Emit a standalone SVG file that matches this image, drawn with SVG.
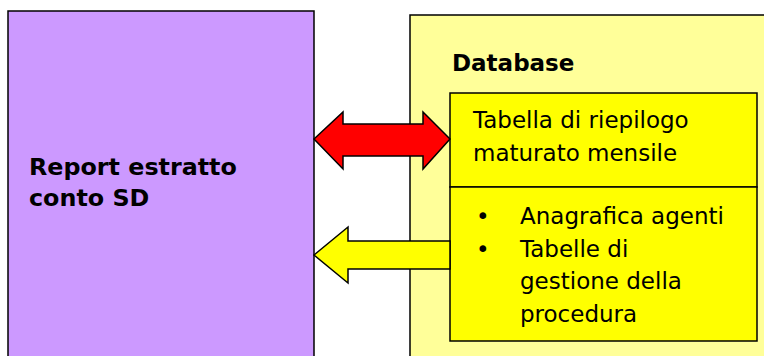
<svg xmlns="http://www.w3.org/2000/svg" width="764" height="356" viewBox="0 0 764 356">
<style>
.box{stroke:#000;stroke-width:1.5}
.t{font-family:"DejaVu Sans","Liberation Sans",sans-serif;font-size:23px;fill:#000}
.b{font-weight:bold}
.r{font-size:23.8px}
</style>
<rect width="764" height="356" fill="#fff"/>
<g id="report">
<rect class="box" x="8" y="11" width="306" height="360" fill="#CC99FF"/>
<text class="t b r" x="29" y="175">Report estratto</text>
<text class="t b r" x="29" y="206">conto SD</text>
</g>
<g id="database">
<rect class="box" x="410" y="15" width="370" height="360" fill="#FFFF99"/>
<text class="t b" x="452" y="71">Database</text>
</g>
<g id="tabella">
<rect class="box" x="450" y="93" width="307" height="94" fill="#FFFF00"/>
<text class="t" x="473" y="128">Tabella di riepilogo</text>
<text class="t" x="473" y="160.5">maturato mensile</text>
</g>
<g id="anagrafica">
<rect class="box" x="450" y="187" width="307" height="154" fill="#FFFF00"/>
<text class="t" x="476" y="224">•</text>
<text class="t" x="520" y="224">Anagrafica agenti</text>
<text class="t" x="476" y="256.5">•</text>
<text class="t" x="520" y="256.5">Tabelle di</text>
<text class="t" x="520" y="289">gestione della</text>
<text class="t" x="520" y="321.5">procedura</text>
</g>
<g id="connectors">
<path class="box" fill="#FF0000" d="M314,139 L343,112 L343,124 L423,124 L423,112 L450,139 L423,169 L423,156 L343,156 L343,169 Z"/>
<path class="box" fill="#FFFF00" d="M314,255 L348,227 L348,241 L450,241 L450,269 L348,269 L348,283 Z"/>
</g>
</svg>
